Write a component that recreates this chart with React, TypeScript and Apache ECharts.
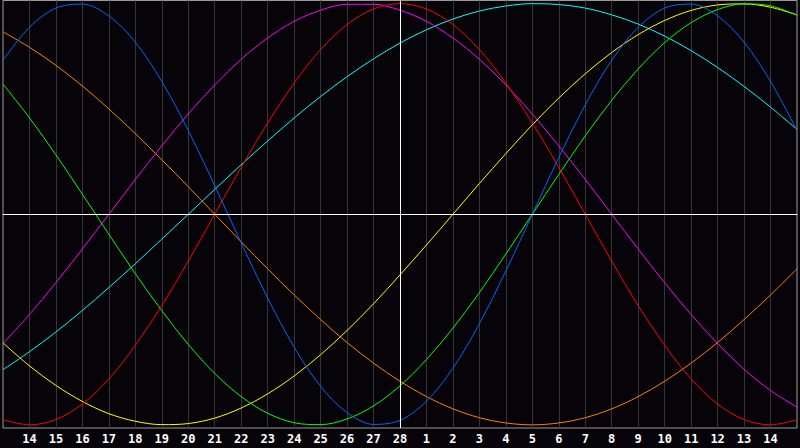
import React, { useEffect, useRef } from "react";
import * as echarts from "echarts";

// day labels under the grid lines (t = 1..29); t = 0 and t = 30 are the edges
const tickLabels = [
  "14", "15", "16", "17", "18", "19", "20", "21", "22", "23", "24", "25", "26", "27", "28",
  "1", "2", "3", "4", "5", "6", "7", "8", "9", "10", "11", "12", "13", "14",
];
const todayIndex = 15;

// curve values read per day (t = 0..30)
const cycle23 = [
  0.731, 0.888, 0.979, 0.998, 0.942, 0.817, 0.631, 0.398, 0.136, -0.136, -0.398,
  -0.631, -0.817, -0.942, -0.998, -0.979, -0.888, -0.731, -0.52, -0.27, 0, 0.27,
  0.52, 0.731, 0.888, 0.979, 0.998, 0.942, 0.817, 0.631, 0.398,
];
const cycle28 = [
  -0.975, -1, -0.975, -0.901, -0.782, -0.623, -0.434, -0.223, 0, 0.223, 0.434,
  0.623, 0.782, 0.901, 0.975, 1, 0.975, 0.901, 0.782, 0.623, 0.434, 0.223, 0,
  -0.223, -0.434, -0.623, -0.782, -0.901, -0.975, -1, -0.975,
];
const cycle33 = [
  0.618, 0.458, 0.282, 0.095, -0.095, -0.282, -0.458, -0.618, -0.756, -0.866,
  -0.945, -0.99, -0.999, -0.972, -0.91, -0.815, -0.69, -0.541, -0.372, -0.189, 0,
  0.189, 0.372, 0.541, 0.69, 0.815, 0.91, 0.972, 0.999, 0.99, 0.945,
];
const cycle38 = [
  -0.614, -0.476, -0.325, -0.165, 0, 0.165, 0.325, 0.476, 0.614, 0.736, 0.837,
  0.916, 0.969, 0.997, 0.997, 0.969, 0.916, 0.837, 0.736, 0.614, 0.476, 0.325,
  0.165, 0, -0.165, -0.325, -0.476, -0.614, -0.736, -0.837, -0.916,
];
const cycle43 = [
  -0.611, -0.72, -0.813, -0.889, -0.947, -0.983, -0.999, -0.994, -0.968, -0.92,
  -0.853, -0.768, -0.667, -0.552, -0.425, -0.288, -0.146, 0, 0.146, 0.288, 0.425,
  0.552, 0.667, 0.768, 0.853, 0.92, 0.968, 0.994, 0.999, 0.983, 0.947,
];
const cycle48 = [
  0.866, 0.793, 0.707, 0.609, 0.5, 0.383, 0.259, 0.131, 0, -0.131, -0.259, -0.383,
  -0.5, -0.609, -0.707, -0.793, -0.866, -0.924, -0.966, -0.991, -1, -0.991, -0.966,
  -0.924, -0.866, -0.793, -0.707, -0.609, -0.5, -0.383, -0.259,
];
const cycle53 = [
  -0.738, -0.653, -0.559, -0.457, -0.348, -0.235, -0.118, 0, 0.118, 0.235, 0.348,
  0.457, 0.559, 0.653, 0.738, 0.813, 0.876, 0.927, 0.965, 0.989, 1, 0.996, 0.979,
  0.947, 0.903, 0.846, 0.777, 0.697, 0.607, 0.509, 0.403,
];

const curves = [
  { name: "53", values: cycle53, color: "#00ffff" },
  { name: "48", values: cycle48, color: "#ff8000" },
  { name: "38", values: cycle38, color: "#ff00ff" },
  { name: "43", values: cycle43, color: "#ffff00" },
  { name: "33", values: cycle33, color: "#00ff00" },
  { name: "28", values: cycle28, color: "#ff0000" },
  { name: "23", values: cycle23, color: "#0066ff" },
];

const App = () => {
  const chartRef = useRef<HTMLDivElement>(null);

  useEffect(() => {
    if (!chartRef.current) return;
    const chart = echarts.init(chartRef.current, null, { renderer: "svg" });

    const series: any[] = curves.map((c) => ({
      name: c.name,
      type: "line",
      data: c.values.map((v, i) => [i, v]),
      smooth: 0.33,
      symbol: "none",
      lineStyle: { color: c.color, width: 1 },
    }));

    // white "today" and zero lines
    series.push({
      type: "line",
      data: [],
      markLine: {
        silent: true,
        symbol: "none",
        label: { show: false },
        lineStyle: { color: "#ffffff", width: 1, type: "solid" },
        data: [{ xAxis: todayIndex }, { yAxis: 0 }],
      },
    });

    const option = {
      animation: false,
      backgroundColor: "#060408",
      grid: {
        left: 0.5,
        right: 0.5,
        top: 0.5,
        bottom: 20,
        show: true,
        borderColor: "#9a9a9a",
        borderWidth: 1,
      },
      xAxis: {
        type: "value",
        min: 0,
        max: 30,
        interval: 1,
        axisLine: { show: true, lineStyle: { color: "#9a9a9a" } },
        axisTick: { show: false },
        splitLine: {
          show: true,
          showMinLine: false,
          showMaxLine: false,
          lineStyle: { color: "#363636", width: 1 },
        },
        axisLabel: {
          margin: 5,
          color: "#ffffff",
          fontFamily: "DejaVu Sans Mono",
          fontWeight: "bold",
          fontSize: 12,
          formatter: (v: number) => (v >= 1 && v <= 29 ? tickLabels[v - 1] : ""),
        },
      },
      yAxis: {
        type: "value",
        min: -1.015,
        max: 1.015,
        show: false,
        splitLine: { show: false },
      },
      series,
    };

    chart.setOption(option);

    return () => {
      chart.dispose();
    };
  }, []);

  return (
    <div
      ref={chartRef}
      style={{ position: "fixed", left: 0, top: 0, width: "800px", height: "448px" }}
    ></div>
  );
};

export default App;
